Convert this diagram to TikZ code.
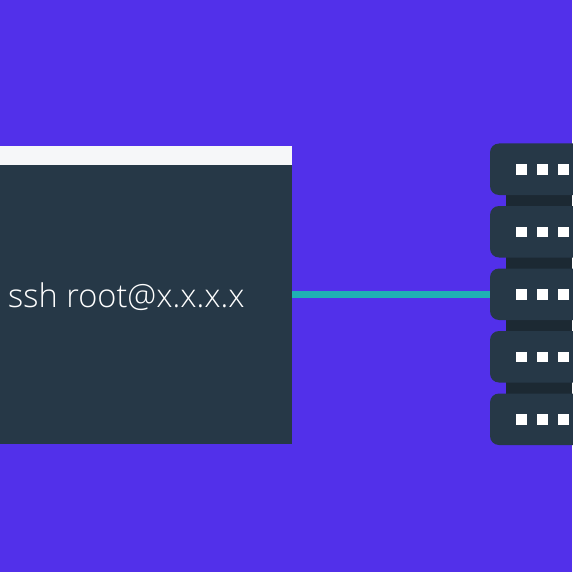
\documentclass[tikz,border=0pt]{standalone}
\usepackage{fontspec}
\setmainfont{Open Sans Light}[Scale=1]
\definecolor{bg}{HTML}{5230EA}
\definecolor{panel}{HTML}{263847}
\definecolor{stripe}{HTML}{1C2933}
\definecolor{bar}{HTML}{F6F7F9}
\definecolor{link}{HTML}{1FB0B4}
\tikzset{
  serverbox/.style={fill=panel,draw=none,rounded corners=9pt},
  led/.style={fill=white,draw=none},
  rack/.style={fill=stripe,draw=none},
}
\begin{document}
\begin{tikzpicture}[x=1pt,y=-1pt]
\useasboundingbox (0,0) rectangle (572,572);
\fill[bg] (0,0) rectangle (572,572);
% terminal
\fill[panel] (0,165) rectangle (292,443.5);
\fill[bar] (0,146) rectangle (292,165);
\node[anchor=base west,inner sep=0pt,text=white,font=\fontsize{32.6}{32.6}\selectfont] (cmd) at (8,307.3) {ssh root@x.x.x.x};
\coordinate (term) at (292,294.5);
% rack behind servers
\fill[rack] (505.5,190) rectangle (572,400);
% servers
\foreach \n/\t in {1/143.5,2/206,3/268.5,4/331,5/393.5}{
  \path[serverbox] (490,\t) -- (572+20,\t) -- (572+20,\t+51.5) -- (490,\t+51.5) -- cycle;
  \foreach \x in {516,537,558}{
    \fill[led] (\x,\t+20.5) rectangle ++(10.5,10.8);
  }
}
\coordinate (srv) at (490,294.5);
\draw[link,line width=7pt] (term) -- (srv);
\end{tikzpicture}
\end{document}
